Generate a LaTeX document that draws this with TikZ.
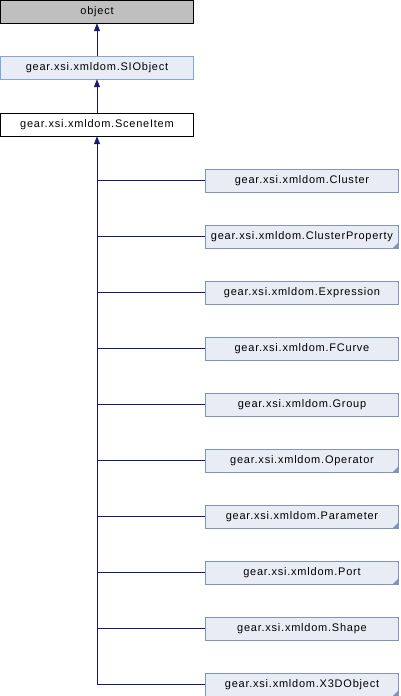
\documentclass[tikz,border=0pt]{standalone}
\usepackage{fontspec}
\setmainfont{Liberation Sans}[LetterSpace=7]
\usetikzlibrary{arrows.meta}

\definecolor{edgeblue}{HTML}{191970}
\definecolor{boxfill}{HTML}{E8ECF5}
\definecolor{baseline}{HTML}{84A4DC}
\definecolor{boxline}{HTML}{8494B8}
\definecolor{topfill}{HTML}{BFBFBF}

\begin{document}
\begin{tikzpicture}[x=1pt,y=-1pt,
  cls/.style={draw=boxline,fill=boxfill,minimum width=193pt,minimum height=23pt,
    inner sep=0pt,font=\fontsize{11}{13}\selectfont},
  edge/.style={draw=edgeblue,line width=0.8pt},
  inherit/.style={edge,-{Triangle[length=8pt,width=6pt]}}]
\useasboundingbox (0,0) rectangle (400,696);

\node[cls,draw=black,fill=topfill] (object) at (97,11.5) {object};
\node[cls,draw=baseline] (siobject) at (97,67.5) {gear.xsi.xmldom.SIObject};
\node[cls,draw=black,fill=white] (sceneitem) at (97,124.5) {gear.xsi.xmldom.SceneItem};

\node[cls] (cluster) at (302,180.5) {gear.xsi.xmldom.Cluster};
\node[cls] (clusterprop) at (302,236.5) {gear.xsi.xmldom.ClusterProperty};
\node[cls] (expression) at (302,292.5) {gear.xsi.xmldom.Expression};
\node[cls] (fcurve) at (302,348.5) {gear.xsi.xmldom.FCurve};
\node[cls] (group) at (302,404.5) {gear.xsi.xmldom.Group};
\node[cls] (operator) at (302,460.5) {gear.xsi.xmldom.Operator};
\node[cls] (parameter) at (302,516.5) {gear.xsi.xmldom.Parameter};
\node[cls] (port) at (302,572.5) {gear.xsi.xmldom.Port};
\node[cls] (shape) at (302,628.5) {gear.xsi.xmldom.Shape};
\node[cls] (x3dobject) at (302,684.5) {gear.xsi.xmldom.X3DObject};

% corner marks
\foreach \n in {clusterprop,operator,parameter,port,x3dobject}
  \fill[boxline] (\n.south east) -- ++(-6,0) -- ++(6,-6) -- cycle;

\draw[inherit] (siobject) -- (object);
\draw[inherit] (sceneitem) -- (siobject);
\draw[inherit] (x3dobject.west) -| (sceneitem.south);

\draw[edge] (cluster.west) -- (cluster.west -| sceneitem.south);
\draw[edge] (clusterprop.west) -- (clusterprop.west -| sceneitem.south);
\draw[edge] (expression.west) -- (expression.west -| sceneitem.south);
\draw[edge] (fcurve.west) -- (fcurve.west -| sceneitem.south);
\draw[edge] (group.west) -- (group.west -| sceneitem.south);
\draw[edge] (operator.west) -- (operator.west -| sceneitem.south);
\draw[edge] (parameter.west) -- (parameter.west -| sceneitem.south);
\draw[edge] (port.west) -- (port.west -| sceneitem.south);
\draw[edge] (shape.west) -- (shape.west -| sceneitem.south);
\end{tikzpicture}
\end{document}
